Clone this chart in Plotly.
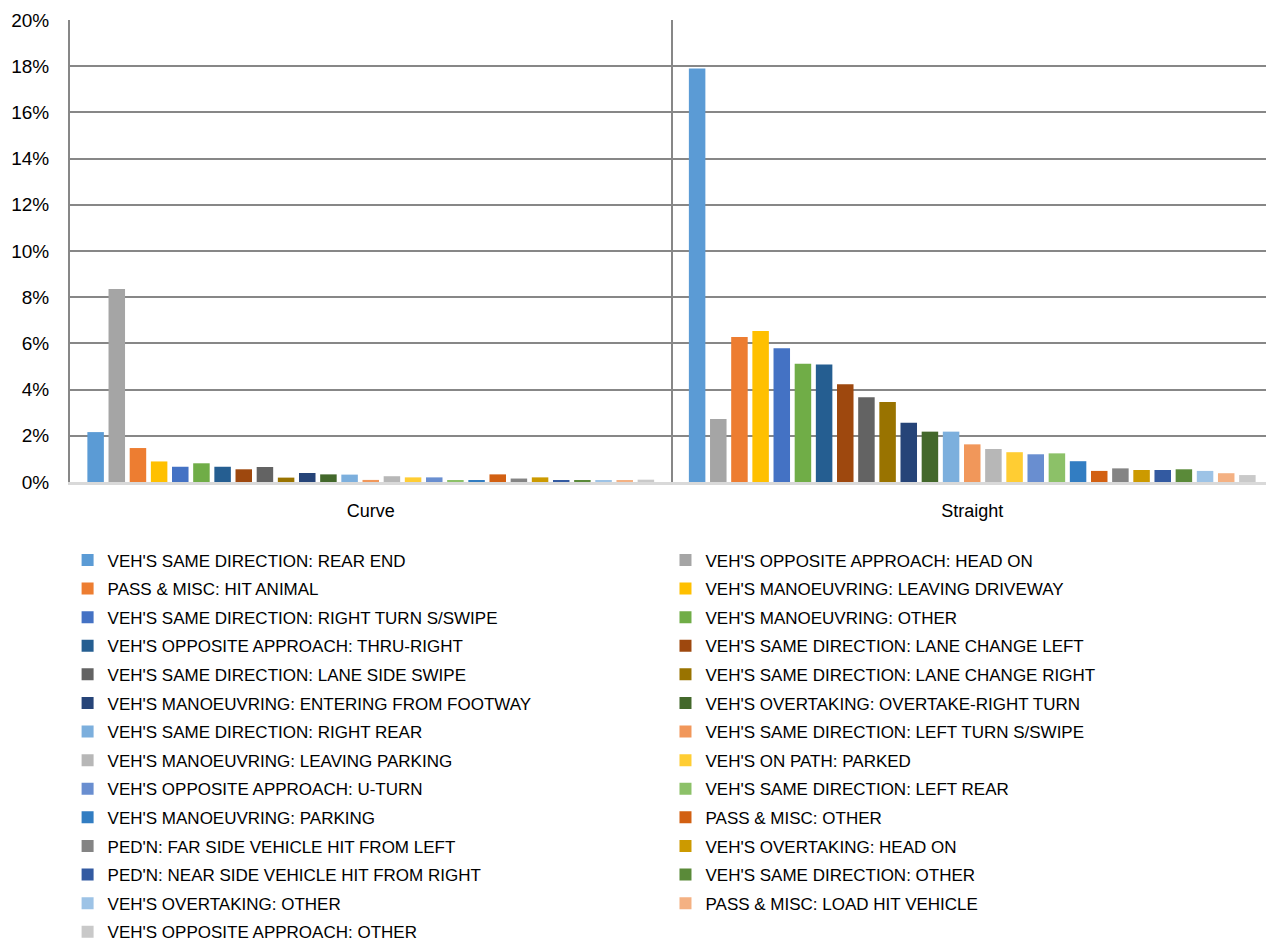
import plotly.graph_objects as go

categories = ["Curve", "Straight"]

series_names = [
    "VEH'S SAME DIRECTION: REAR END",
    "VEH'S OPPOSITE APPROACH: HEAD ON",
    "PASS & MISC: HIT ANIMAL",
    "VEH'S MANOEUVRING: LEAVING DRIVEWAY",
    "VEH'S SAME DIRECTION: RIGHT TURN S/SWIPE",
    "VEH'S MANOEUVRING: OTHER",
    "VEH'S OPPOSITE APPROACH: THRU-RIGHT",
    "VEH'S SAME DIRECTION: LANE CHANGE LEFT",
    "VEH'S SAME DIRECTION: LANE SIDE SWIPE",
    "VEH'S SAME DIRECTION: LANE CHANGE RIGHT",
    "VEH'S MANOEUVRING: ENTERING FROM FOOTWAY",
    "VEH'S OVERTAKING: OVERTAKE-RIGHT TURN",
    "VEH'S SAME DIRECTION: RIGHT REAR",
    "VEH'S SAME DIRECTION: LEFT TURN S/SWIPE",
    "VEH'S MANOEUVRING: LEAVING PARKING",
    "VEH'S ON PATH: PARKED",
    "VEH'S OPPOSITE APPROACH: U-TURN",
    "VEH'S SAME DIRECTION: LEFT REAR",
    "VEH'S MANOEUVRING: PARKING",
    "PASS & MISC: OTHER",
    "PED'N: FAR SIDE VEHICLE HIT FROM LEFT",
    "VEH'S OVERTAKING: HEAD ON",
    "PED'N: NEAR SIDE VEHICLE HIT FROM RIGHT",
    "VEH'S SAME DIRECTION: OTHER",
    "VEH'S OVERTAKING: OTHER",
    "PASS & MISC: LOAD HIT VEHICLE",
    "VEH'S OPPOSITE APPROACH: OTHER",
]

curve_values = [2.16, 8.35, 1.47, 0.89, 0.66, 0.81, 0.66, 0.55, 0.65, 0.19,
                0.39, 0.33, 0.32, 0.09, 0.25, 0.20, 0.20, 0.06, 0.05, 0.33,
                0.15, 0.20, 0.06, 0.06, 0.05, 0.05, 0.10]

straight_values = [17.9, 2.73, 6.28, 6.54, 5.79, 5.12, 5.09, 4.23, 3.67, 3.46,
                   2.57, 2.18, 2.18, 1.63, 1.43, 1.29, 1.20, 1.24, 0.90, 0.48,
                   0.59, 0.52, 0.52, 0.55, 0.48, 0.38, 0.30]

colors = ["#5B9BD5", "#A5A5A5", "#ED7D31", "#FFC000", "#4472C4", "#70AD47",
          "#255E91", "#9E480E", "#636363", "#997300", "#264478", "#43682B",
          "#7CAFDD", "#F1975A", "#B7B7B7", "#FFCD33", "#698ED0", "#8CC168",
          "#327DC2", "#D26012", "#848484", "#CC9A00", "#335AA1", "#5A8A39",
          "#9DC3E6", "#F4B183", "#C9C9C9"]

y_ticks = [0, 2, 4, 6, 8, 10, 12, 14, 16, 18, 20]

fig = go.Figure()
for i, name in enumerate(series_names):
    fig.add_trace(go.Bar(
        x=categories,
        y=[curve_values[i], straight_values[i]],
        name=name,
        legendgroup=f"g{i:02d}",
        legend="legend" if i % 2 == 0 else "legend2",
        marker=dict(color=colors[i], line=dict(width=0)),
    ))

legend_font = dict(family="Liberation Sans, Arial, sans-serif", size=17, color="#000000")
legend_common = dict(
    orientation="v",
    yanchor="top", y=-0.1307,
    xanchor="left",
    font=legend_font,
    tracegroupgap=3.5,
    traceorder="grouped",
    bgcolor="rgba(0,0,0,0)",
    maxheight=900,
)

fig.update_layout(
    width=1266, height=943,
    margin=dict(l=62, r=1, t=12, b=469, autoexpand=False),
    paper_bgcolor="white", plot_bgcolor="white",
    barmode="group", bargap=0.05, bargroupgap=0.22,
    font=dict(family="Liberation Sans, Arial, sans-serif", size=18, color="#000000"),
    showlegend=True,
    legend=dict(x=-0.002, **legend_common),
    legend2=dict(x=0.495, **legend_common),
)

fig.update_yaxes(
    range=[0, 20], tickvals=y_ticks, ticktext=[f"{v}%" for v in y_ticks],
    showgrid=True, gridcolor="#878787", gridwidth=2,
    zeroline=False, showline=True, linecolor="#878787", linewidth=2,
    ticks="", ticklabelstandoff=15,
    tickfont=dict(size=19),
)
fig.update_xaxes(
    type="category", tickson="boundaries",
    showgrid=True, gridcolor="#878787", gridwidth=2,
    showline=True, linecolor="#D9D9D9", linewidth=3,
    ticks="", ticklabelstandoff=10,
    tickfont=dict(size=18),
)

fig.write_html("out.html")
